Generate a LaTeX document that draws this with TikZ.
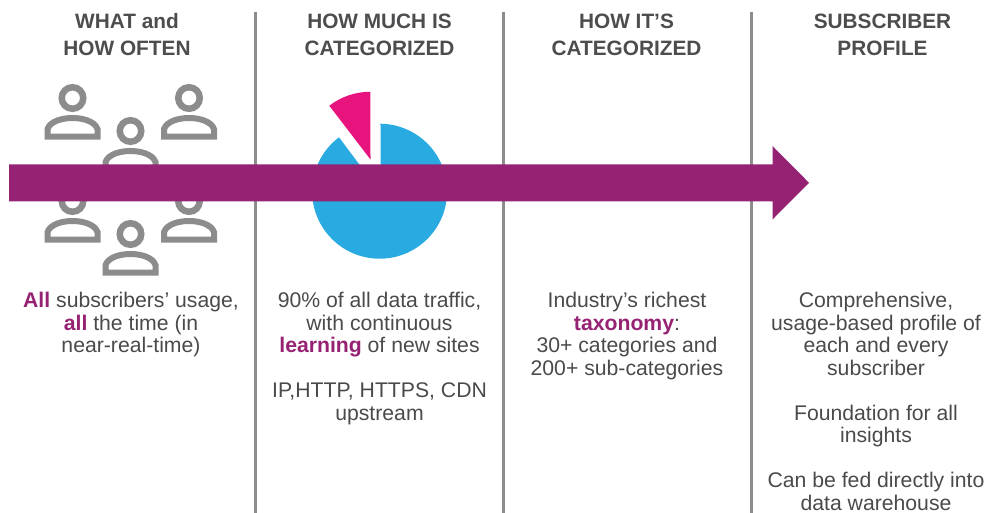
\documentclass[tikz,border=0pt]{standalone}
\usepackage{fontspec}
\setmainfont{Liberation Sans}
\definecolor{plum}{HTML}{952273}
\definecolor{rulegray}{HTML}{8C8C8C}
\definecolor{headgray}{HTML}{4D4D4F}
\definecolor{bodygray}{HTML}{4A4A4C}
\definecolor{pieblue}{HTML}{29ABE2}
\definecolor{piepink}{HTML}{E6147C}
\newcommand{\hl}[1]{\textcolor{plum}{\textbf{#1}}}
\tikzset{
  x=0.75pt,y=-0.75pt,
  headtext/.style={align=center,anchor=north,inner sep=0pt,text=headgray,font=\fontsize{15.6}{20.2}\selectfont\bfseries},
  bodytext/.style={align=center,anchor=north,inner sep=0pt,text=bodygray,font=\fontsize{15.9}{16.9}\selectfont},
  divider/.style={draw=rulegray,line width=2.2pt},
  person/.pic={
    \draw[draw=rulegray,line width=4.9pt] (0,0) circle[radius=10.75];
    \draw[draw=rulegray,line width=4.5pt,miter limit=2]
      (-25,38.7) -- (-25,31) .. controls (-22,23) and (-10,20) .. (0,20)
      .. controls (10,20) and (22,23) .. (25,31) -- (25,38.7) -- cycle;
  }
}
\begin{document}
\begin{tikzpicture}
\useasboundingbox (0,0) rectangle (987,513);
% dividers
\coordinate (d1t) at (255.5,12); \coordinate (d1b) at (255.5,513);
\coordinate (d2t) at (503.5,12); \coordinate (d2b) at (503.5,513);
\coordinate (d3t) at (751.5,12); \coordinate (d3b) at (751.5,513);
\draw[divider] (d1t) -- (d1b);
\draw[divider] (d2t) -- (d2b);
\draw[divider] (d3t) -- (d3b);
% people
\foreach \px/\py in {72.5/98,189/98,130.5/131,72.5/201,189/201,130.5/234}
  \pic at (\px,\py) {person};
% pie
\fill[pieblue] (380.5,124.5) -- (380.5,191.5) -- (379.5,191.5) -- (339,137.3) arc[start angle=233,end angle=-90,radius=67.5] -- cycle;
\fill[piepink] (370.5,159.5) -- (329.3,105.7) arc[start angle=-127.5,end angle=-90,radius=67.5] -- cycle;
% arrow
\fill[plum] (9,164.5) -- (772.5,164.5) -- (772.5,146) -- (809,182.8) -- (772.5,219.5) -- (772.5,201.5) -- (9,201.5) -- cycle;
% headers
\node[headtext] (h1) at (127,13.5) {WHAT and\\HOW OFTEN};
\node[headtext] (h2) at (379.5,13.5) {HOW MUCH IS\\CATEGORIZED};
\node[headtext] (h3) at (626.5,13.5) {HOW IT’S\\CATEGORIZED};
\node[headtext] (h4) at (882.5,13.5) {SUBSCRIBER\\PROFILE};
% body
\node[bodytext] (b1) at (131,292) {\hl{All} subscribers’ usage,\\\hl{all} the time (in\\near-real-time)};
\node[bodytext] (b2) at (379.5,292) {90\% of all data traffic,\\with continuous\\\hl{learning} of new sites\\[16.9pt]IP,HTTP, HTTPS, CDN\\upstream};
\node[bodytext] (b3) at (627,292) {Industry’s richest\\\hl{taxonomy}:\\30+ categories and\\200+ sub-categories};
\node[bodytext] (b4) at (876,292) {Comprehensive,\\usage-based profile of\\each and every\\subscriber\\[16.9pt]Foundation for all\\insights\\[16.9pt]Can be fed directly into\\data warehouse};
\end{tikzpicture}
\end{document}
